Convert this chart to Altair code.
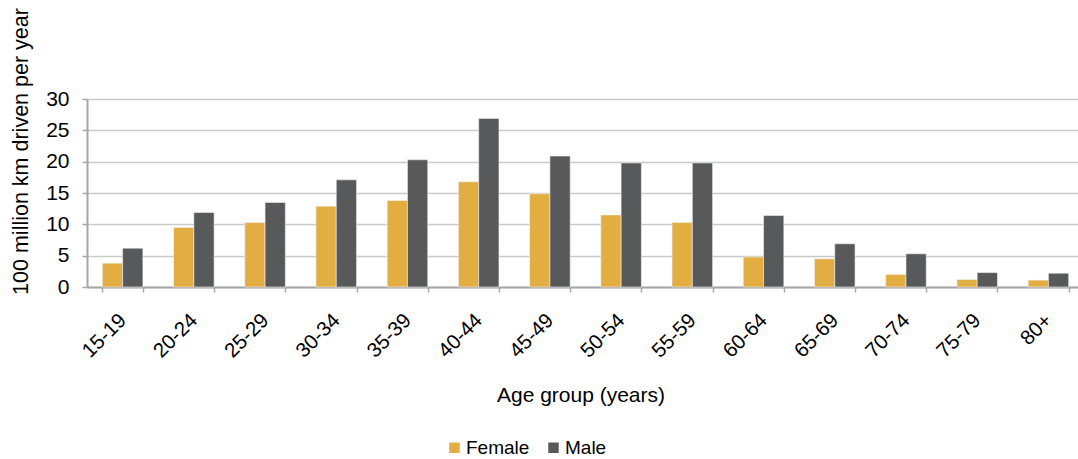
import altair as alt
import pandas as pd

# Annual distance driven, by driver age group and sex (units of 100 million km)
age_groups = ["15-19", "20-24", "25-29", "30-34", "35-39", "40-44", "45-49",
              "50-54", "55-59", "60-64", "65-69", "70-74", "75-79", "80+"]
female = [3.8, 9.5, 10.3, 12.9, 13.8, 16.8, 14.9, 11.5, 10.3, 4.8, 4.5, 2.0, 1.2, 1.1]
male = [6.2, 11.9, 13.5, 17.1, 20.3, 26.9, 20.9, 19.8, 19.8, 11.4, 6.9, 5.3, 2.3, 2.2]
sexes = ["Female", "Male"]
colors = ["#E3AE41", "#58595B"]

rows = []
for i, age in enumerate(age_groups):
    rows.append({"age": age, "sex": "Female", "km": female[i]})
    rows.append({"age": age, "sex": "Male", "km": male[i]})
df = pd.DataFrame(rows)

FONT = "Liberation Sans"
PLOT_W = 991      # visible plot width
BAND_SPAN = 997   # category axis runs slightly past the right edge

bars = alt.Chart(df).mark_bar(stroke="#F2F2F2", strokeWidth=0.6).encode(
    x=alt.X(
        "age:N",
        sort=age_groups,
        scale=alt.Scale(paddingInner=0.43, paddingOuter=0.215, range=[0, BAND_SPAN]),
        axis=alt.Axis(
            title="Age group (years)",
            labelAngle=-45,
            labelAlign="right",
            labelBaseline="middle",
            labelPadding=25,
            labelFontSize=20.5,
            labelColor="#000000",
            titleFontSize=21,
            titleFontWeight="normal",
            titleColor="#000000",
            titleX=PLOT_W / 2 - 2,
            titleY=108,
            titleBaseline="middle",
            tickBand="extent",
            tickColor="#A6A6A6",
            tickSize=5,
            tickWidth=1.5,
            domainColor="#A6A6A6",
            domainWidth=2,
            grid=False,
        ),
    ),
    xOffset=alt.XOffset("sex:N", sort=sexes),
    y=alt.Y(
        "km:Q",
        scale=alt.Scale(domain=[0, 30]),
        axis=alt.Axis(
            title="100 million km driven per year",
            values=[0, 5, 10, 15, 20, 25, 30],
            labelFontSize=21,
            labelColor="#000000",
            labelPadding=13,
            titleFontSize=21.5,
            titleFontWeight="normal",
            titleColor="#000000",
            titleAngle=-90,
            titleX=-66,
            titleY=52,
            titleAlign="center",
            titleBaseline="middle",
            tickColor="#A6A6A6",
            tickSize=5,
            tickWidth=1.5,
            domainColor="#A6A6A6",
            domainWidth=2,
            gridColor="#C9C9C9",
            gridWidth=1.5,
        ),
    ),
    color=alt.Color(
        "sex:N",
        sort=sexes,
        scale=alt.Scale(domain=sexes, range=colors),
        legend=alt.Legend(
            title=None,
            orient="none",
            legendX=358,
            legendY=339,
            direction="horizontal",
            symbolType="square",
            symbolSize=110,
            symbolStrokeWidth=0,
            labelFontSize=19,
            labelColor="#000000",
            labelFont=FONT,
            labelOffset=2,
            columnPadding=14,
            symbolOffset=0,
        ),
    ),
).properties(
    width=PLOT_W,
    height=188,
    autosize=alt.AutoSizeParams(type="none"),
    padding={"left": 87, "top": 99, "right": 0, "bottom": 172},
).configure(
    font=FONT,
    background="#FFFFFF",
).configure_view(
    stroke=None,
)

chart = bars
chart.save("out.html", embed_options={"renderer": "svg", "actions": False})
